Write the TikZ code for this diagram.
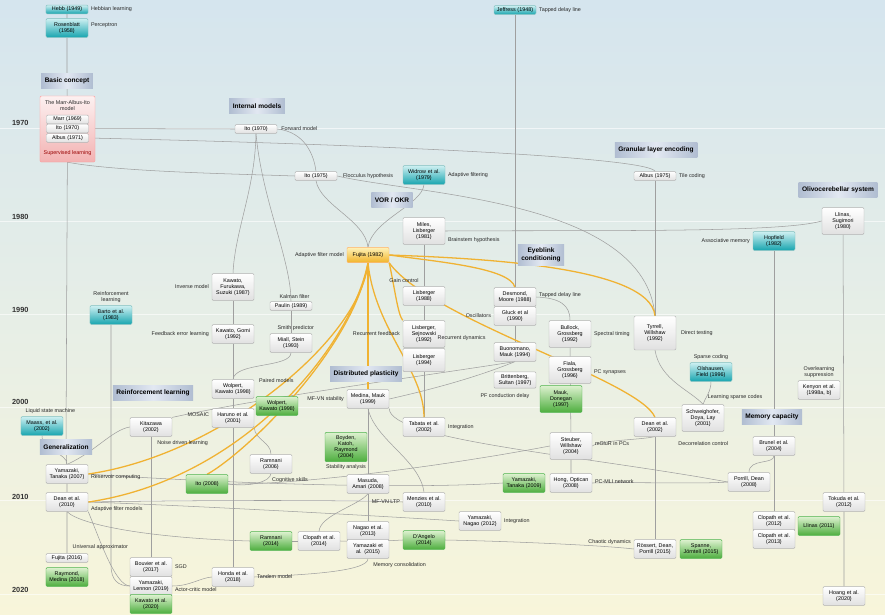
\documentclass[tikz,border=0pt]{standalone}
\usepackage{fontspec}
\setmainfont{Liberation Sans}
\usetikzlibrary{positioning,backgrounds}

\definecolor{skytop}{HTML}{D5E5EE}
\definecolor{skymid}{HTML}{E6EEE7}
\definecolor{skybot}{HTML}{F8F5DA}
\definecolor{tealtop}{HTML}{CDEFF1}
\definecolor{tealbot}{HTML}{17A5AF}
\definecolor{leaftop}{HTML}{DDF1CF}
\definecolor{leafbot}{HTML}{4DAE3E}
\definecolor{ambertop}{HTML}{FFF1B8}
\definecolor{amberbot}{HTML}{F0B428}
\definecolor{amberline}{HTML}{F0B232}
\definecolor{pinktop}{HTML}{FCF1F1}
\definecolor{pinkbot}{HTML}{F3B2B2}
\definecolor{slate}{HTML}{B0BDD1}
\definecolor{slatemid}{HTML}{E2E8F2}

\newcommand\tinyfont{\fontsize{4.6}{5.2}\selectfont}
\newcommand\topicfont{\fontsize{5.6}{6.4}\selectfont\bfseries}

\tikzset{
  refbox/.style={draw=gray!60, rounded corners=1pt, top color=white,
    bottom color=gray!24, font=\tinyfont, align=center, text width=1.2cm,
    inner xsep=0.03cm, inner ysep=1pt, minimum height=16pt},
  slim/.style={minimum height=7.5pt, inner ysep=0.4pt},
  tall/.style={minimum height=23pt},
  tealbox/.style={refbox, draw=teal!50, top color=tealtop, bottom color=tealbot},
  leafbox/.style={refbox, draw=green!40!gray, top color=leaftop, bottom color=leafbot},
  amberbox/.style={refbox, draw=orange!60, top color=ambertop, bottom color=amberbot},
  topic/.style={font=\topicfont, left color=slate, right color=slate,
    middle color=slatemid, inner xsep=3pt, minimum height=13pt, align=center},
  note/.style={font=\tinyfont, inner sep=0.5pt, text=black!85, align=center},
  yearlbl/.style={font=\fontsize{6.3}{7}\selectfont\bfseries, text=black!80, anchor=west},
  link/.style={draw=gray!75, line width=0.45pt},
  hot/.style={draw=amberline, line width=1.1pt},
}

\begin{document}
\begin{tikzpicture}[x=0.03cm, y=-0.03cm]
\useasboundingbox (0,0) rectangle (885,615);
%The paper: sky fading to sand, with a faint rule for each decade
\begin{scope}[on background layer]
\shade[top color=skytop, bottom color=skybot, middle color=skymid] (0,0) rectangle (885,615);
\foreach \y in {128,221,314,407,500,594}
  \draw[white, line width=0.7pt, opacity=0.6] (0,\y) -- (885,\y);
\end{scope}

\node[yearlbl] (y1970) at (8,123) {1970};
\node[yearlbl] (y1980) at (8,217) {1980};
\node[yearlbl] (y1990) at (8,310) {1990};
\node[yearlbl] (y2000) at (8,402) {2000};
\node[yearlbl] (y2010) at (8,497) {2010};
\node[yearlbl] (y2020) at (8,590) {2020};

%Topic headers
\node[topic] (bc) at (67,81) {Basic concept};
\node[topic] (im) at (257,106) {Internal models};
\node[topic] (vor) at (392,200) {VOR / OKR};
\node[topic] (gle) at (656,150) {Granular layer encoding};
\node[topic] (ocs) at (838,190) {Olivocerebellar system};
\node[topic] (eye) at (541,255) {Eyeblink\\conditioning};
\node[topic] (rl) at (153,393) {Reinforcement learning};
\node[topic] (dp) at (366,374) {Distributed plasticity};
\node[topic] (gen) at (66,447) {Generalization};
\node[topic] (mc) at (772,417) {Memory capacity};

%The Marr-Albus-Ito block, with its three papers inside
\node[draw=red!40, rounded corners=1pt, top color=pinktop, bottom color=pinkbot,
  minimum width=1.65cm, minimum height=1.98cm] (mai) at (67.5,129) {};
\node[note] (maititle) at (67.5,106) {The Marr-Albus-Ito\\model};
\node[refbox, slim] (marr) at (67.5,119.5) {Marr (1969)};
\node[refbox, slim] (ito70i) at (67.5,128.5) {Ito (1970)};
\node[refbox, slim] (albus71) at (67.5,138) {Albus (1971)};
\node[note, text=red!60!black] (suplearn) at (67.5,153) {Supervised learning};

%Teal boxes: ideas borrowed from outside
\node[tealbox, slim] (hebb) at (67,9.5) {Hebb (1949)};
\node[note, right=0.06cm of hebb] (hebbnote) {Hebbian learning};
\node[tealbox] (rosen) at (67,28) {Rosenblatt\\(1958)};
\node[note, right=0.06cm of rosen, yshift=2pt] (rosennote) {Perceptron};
\node[tealbox, slim] (jeffress) at (515,10) {Jeffress (1948)};
\node[note, right=0.06cm of jeffress] (jeffnote) {Tapped delay line};
\node[tealbox] (widrow) at (424,175) {Widrow et al.\\(1979)};
\node[note, right=0.06cm of widrow] (widrownote) {Adaptive filtering};
\node[tealbox] (barto) at (111,315) {Barto et al.\\(1983)};
\node[note, above=0.05cm of barto] (bartonote) {Reinforcement\\learning};
\node[tealbox] (hopfield) at (774,241) {Hopfield\\(1982)};
\node[note, left=0.06cm of hopfield] (hopnote) {Associative memory};
\node[tealbox] (olshausen) at (711,372) {Olshausen,\\Field (1996)};
\node[note, above=0.05cm of olshausen] (olsnote) {Sparse coding};
\node[tealbox] (maass) at (42,426) {Maass, et al.\\(2002)};
\node[note, above=0.05cm of maass, xshift=0.25cm] (maassnote) {Liquid state machine};

%Grey boxes: cerebellar models
\node[refbox, slim] (ito70) at (256,129) {Ito (1970)};
\node[note, right=0.1cm of ito70] (ito70note) {Forward model};
\node[refbox, slim] (ito75) at (316,176) {Ito (1975)};
\node[note, right=0.15cm of ito75] (ito75note) {Flocculus hypothesis};
\node[refbox, slim] (albus75) at (655,176) {Albus (1975)};
\node[note, right=0.06cm of albus75] (albusnote) {Tile coding};
\node[refbox, tall] (llinas80) at (843,221) {Llinas,\\Sugimori\\(1980)};
\node[refbox, tall] (miles) at (424,231) {Miles,\\Lisberger\\(1981)};
\node[note, right=0.06cm of miles, yshift=-7.5pt] (milesnote) {Brainstem hypothesis};
\node[amberbox, minimum height=13pt] (fujita) at (368,255) {Fujita (1982)};
\node[note, left=0.06cm of fujita] (fujnote) {Adaptive filter model};
\node[refbox, tall] (kfs) at (233,287) {Kawato,\\Furukawa,\\Suzuki (1987)};
\node[note, left=0.06cm of kfs] (kfsnote) {Inverse model};
\node[refbox, slim] (paulin) at (291,306) {Paulin (1989)};
\node[note, above=0.06cm of paulin, xshift=3pt] (paulinnote) {Kalman filter};
\node[refbox] (lis88) at (424,296) {Lisberger\\(1988)};
\node[note, above=0.1cm of lis88, xshift=-0.6cm] (lis88note) {Gain control};
\node[refbox] (desmond) at (515,297) {Desmond,\\Moore (1988)};
\node[note, right=0.06cm of desmond, yshift=2pt] (desnote) {Tapped delay line};
\node[refbox] (gluck) at (515,316) {Gluck et al\\(1990)};
\node[note, left=0.06cm of gluck] (glucknote) {Oscillators};
\node[refbox] (kgomi) at (233,334) {Kawato, Gomi\\(1992)};
\node[note, left=0.06cm of kgomi] (kgominote) {Feedback error learning};
\node[refbox] (miall) at (291,343) {Miall, Stein\\(1993)};
\node[note, above=0.06cm of miall, xshift=4pt] (miallnote) {Smith predictor};
\node[refbox, tall] (lissej) at (424,334) {Lisberger,\\Sejnowski\\(1992)};
\node[note, left=0.06cm of lissej] (lissejnote) {Recurrent feedback};
\node[refbox, minimum height=20pt] (lis94) at (424,360) {Lisberger\\(1994)};
\node[refbox, tall] (bullock) at (570,334) {Bullock,\\Grossberg\\(1992)};
\node[note, right=0.06cm of bullock] (bullnote) {Spectral timing};
\node[refbox, minimum height=29pt] (tyrrell) at (655,333) {Tyrrell,\\Willshaw\\(1992)};
\node[note, right=0.12cm of tyrrell] (tyrnote) {Direct testing};
\node[refbox] (buono) at (515,352) {Buonomano,\\Mauk (1994)};
\node[note, above=0.03cm of buono, xshift=-1.6cm] (buononote) {Recurrent dynamics};
\node[refbox, tall] (fiala) at (570,370) {Fiala,\\Grossberg\\(1996)};
\node[note, right=0.06cm of fiala, yshift=-2pt] (fialanote) {PC synapses};
\node[refbox, minimum height=14pt] (britt) at (515,380) {Brittenberg,\\Sultan (1997)};
\node[note, below=0.12cm of britt, xshift=-0.3cm] (brittnote) {PF conduction delay};
\node[refbox] (kenyon) at (819,390) {Kenyon et al.\\(1998a, b)};
\node[note, above=0.05cm of kenyon] (kenyonnote) {Overlearning\\suppression};
\node[refbox] (wolpg) at (233,389) {Wolpert,\\Kawato (1998)};
\node[note, right=0.12cm of wolpg, yshift=7.5pt] (wolpnote) {Paired models};
\node[refbox] (medina) at (368,399) {Medina, Mauk\\(1999)};
\node[note, left=0.06cm of medina] (medinanote) {MF-VN stability};
\node[refbox, tall] (schweig) at (703,418) {Schweighofer,\\Doya, Lay\\(2001)};
\node[note, anchor=west] (schweignote) at (707,397) {Learning sparse codes};
\node[refbox] (haruno) at (233,418) {Haruno et al.\\(2001)};
\node[note, left=0.06cm of haruno, yshift=3pt] (harunonote) {MOSAIC};
\node[refbox] (kitazawa) at (151,427) {Kitazawa\\(2002)};
\node[note, below=0.1cm of kitazawa, xshift=0.95cm] (kitanote) {Noise driven learning};
\node[refbox] (tabata) at (424,427) {Tabata et al.\\(2002)};
\node[note, right=0.06cm of tabata] (tabatanote) {Integration};
\node[refbox] (dean02) at (655,427) {Dean et al.\\(2002)};
\node[note, below=0.12cm of dean02, xshift=1.45cm] (dean02note) {Decorrelation control};
\node[refbox, tall] (steuber) at (571,446) {Steuber,\\Willshaw\\(2004)};
\node[note, right=0.06cm of steuber, yshift=2pt] (steubernote) {mGluR in PCs};
\node[refbox] (brunel) at (774,446) {Brunel et al.\\(2004)};
\node[refbox] (ramnani06) at (271,464) {Ramnani\\(2006)};
\node[note, below=0.1cm of ramnani06, xshift=0.57cm] (ramnote) {Cognitive skills};
\node[refbox] (yt07) at (67,474) {Yamazaki,\\Tanaka (2007)};
\node[note, right=0.06cm of yt07, yshift=-3pt] (yt07note) {Reservoir computing};
\node[refbox] (masuda) at (368,484) {Masuda,\\Amari (2008)};
\node[refbox] (hong) at (571,483) {Hong, Optican\\(2008)};
\node[note, right=0.06cm of hong, yshift=1pt] (hongnote) {PC-MLI network};
\node[refbox] (porrill) at (749,482) {Porrill, Dean\\(2008)};
\node[refbox] (dean10) at (67,502) {Dean et al.\\(2010)};
\node[note, right=0.06cm of dean10, yshift=-6pt] (dean10note) {Adaptive filter models};
\node[refbox] (menzies) at (424,502) {Menzies et al.\\(2010)};
\node[note, left=0.06cm of menzies] (menznote) {MF-VN LTP};
\node[refbox] (tokuda) at (844,502) {Tokuda et al.\\(2012)};
\node[refbox] (yn12) at (480,521) {Yamazaki,\\Nagao (2012)};
\node[note, right=0.06cm of yn12] (yn12note) {Integration};
\node[refbox] (nagao) at (368,531) {Nagao et al.\\(2013)};
\node[refbox] (clop14) at (319,541) {Clopath et al.\\(2014)};
\node[refbox] (yam15) at (368,549) {Yamazaki et\\al. (2015)};
\node[note, below=0.1cm of yam15, xshift=0.95cm] (yam15note) {Memory consolidation};
\node[refbox] (clop12) at (774,521) {Clopath et al.\\(2012)};
\node[refbox] (clop13) at (774,539) {Clopath et al.\\(2013)};
\node[refbox] (rossert) at (655,549) {Rössert, Dean,\\Porrill (2015)};
\node[note, left=0.06cm of rossert, yshift=6pt] (rossnote) {Chaotic dynamics};
\node[refbox, slim] (fujita16) at (67,558) {Fujita (2016)};
\node[note, above=0.08cm of fujita16, xshift=1cm] (fuj16note) {Universal approximator};
\node[refbox] (bouvier) at (151,567) {Bouvier et al.\\(2017)};
\node[note, right=0.06cm of bouvier] (bouvnote) {SGD};
\node[refbox] (yl19) at (151,586) {Yamazaki,\\Lennon (2019)};
\node[note, right=0.06cm of yl19, yshift=-3pt] (yl19note) {Actor-critic model};
\node[refbox] (honda) at (233,577) {Honda et al.\\(2018)};
\node[note, right=0.06cm of honda] (hondanote) {Tandem model};
\node[refbox] (hoang) at (844,596) {Hoang et al.\\(2020)};

%Green boxes: experimental work
\node[leafbox] (wolpk) at (277,406) {Wolpert,\\Kawato (1998)};
\node[leafbox, tall] (mauk) at (561,399) {Mauk,\\Donegan\\(1997)};
\node[leafbox, minimum height=25pt] (boyden) at (346,447) {Boyden,\\Katoh,\\Raymond\\(2004)};
\node[note, below=0.05cm of boyden] (boydnote) {Stability analysis};
\node[leafbox] (ito08) at (207,484) {Ito (2008)};
\node[leafbox] (yt09) at (524,483) {Yamazaki,\\Tanaka (2009)};
\node[leafbox] (ramnani14) at (271,541) {Ramnani\\(2014)};
\node[leafbox] (dangelo) at (424,540) {D'Angelo\\(2014)};
\node[leafbox] (spanne) at (701,549) {Spanne,\\Jörntell (2015)};
\node[leafbox] (llinas11) at (819,526) {Llinas (2011)};
\node[leafbox] (raymond) at (67,577) {Raymond,\\Medina (2018)};
\node[leafbox] (kawato20) at (151,604) {Kawato et al.\\(2020)};

%Connectors go underneath the boxes
\begin{scope}[on background layer]
% grey lineage lines
\draw[link] (hebb) -- (rosen) -- (bc) -- (mai);
\draw[link] (mai) -- (gen) -- (yt07) -- (dean10) -- (fujita16);
\draw[link] (maass.south) .. controls (42,452) and (67,452) .. (yt07.north);
\draw[link] (ito70i.east) -- (ito70.west);
\draw[link] (albus71.east) .. controls (400,145) and (650,158) .. (albus75.north);
\draw[link] (ito70.east) .. controls (305,132) and (314,155) .. (ito75.north);
\draw[link] (ito75.south) .. controls (320,205) and (365,220) .. (fujita.north);
\draw[link] (mai.south) .. controls (120,172) and (240,174) .. (ito75.west);
\draw[link] (ito75.east) .. controls (420,195) and (645,200) .. (tyrrell.north);
\draw[link] (widrow.south) .. controls (422,205) and (372,220) .. (fujita.north);
\draw[link] (jeffress) -- (desmond);
\draw[link] (albus75) -- (tyrrell);
\draw[link] (miles.east) .. controls (600,230) and (780,233) .. (llinas80.west);
\draw[link] (miles) -- (lis88) -- (lissej);
\draw[link] (lis94) -- (tabata);
\draw[link] (ito70.south) .. controls (255,190) and (235,230) .. (kfs.north);
\draw[link] (ito70.south) .. controls (262,200) and (291,260) .. (paulin.north);
\draw[link] (paulin) -- (miall);
\draw[link] (miall.south) .. controls (291,368) and (235,362) .. (wolpg.north);
\draw[link] (kfs) -- (kgomi) -- (wolpg) -- (haruno) -- (honda);
\draw[link] (barto.south) -- (111,565) .. controls (111,580) and (118,586) .. (yl19.west);
\draw[link] (kitazawa) -- (bouvier);
\draw[link] (yt07.north) .. controls (95,452) and (112,430) .. (kitazawa.west);
\draw[link] (kitazawa.north east) .. controls (260,398) and (430,375) .. (buono.south);
\draw[link] (buono.south) .. controls (470,380) and (420,392) .. (medina.east);
\draw[link] (desmond.east) .. controls (560,298) and (570,305) .. (bullock.north);
\draw[link] (gluck) -- (buono);
\draw[link] (bullock) -- (steuber) -- (hong);
\draw[link] (steuber.east) .. controls (600,440) and (640,440) .. (dean02.south);
\draw[link] (dean02) -- (rossert);
\draw[link] (tyrrell.south) .. controls (660,380) and (690,390) .. (schweig.north);
\draw[link] (olshausen.south) .. controls (711,392) and (705,398) .. (schweig.north);
\draw[link] (hopfield) -- (brunel) -- (clop12);
\draw[link] (brunel.south) .. controls (774,465) and (749,458) .. (porrill.north);
\draw[link] (llinas80) -- (tokuda) -- (hoang);
\draw[link] (hong.east) .. controls (650,482) and (700,484) .. (porrill.west);
\draw[link] (medina.south east) .. controls (390,440) and (580,455) .. (porrill.west);
\draw[link] (medina) -- (masuda) -- (nagao);
\draw[link] (medina.south) .. controls (375,440) and (420,460) .. (menzies.north);
\draw[link] (masuda.south) .. controls (360,505) and (320,515) .. (clop14.north);
\draw[link] (haruno.south east) .. controls (255,440) and (271,442) .. (ramnani06.north);
\draw[link] (ramnani06.south) .. controls (270,482) and (250,487) .. (ito08.east);
\draw[link] (ito08.east) .. controls (300,485) and (450,465) .. (steuber.west);
\draw[link] (yt07.east) .. controls (200,482) and (400,490) .. (yt09.west);
\draw[link] (dean10.east) .. controls (200,500) and (350,500) .. (menzies.west);
\draw[link] (dean10.east) .. controls (200,506) and (380,516) .. (yn12.west);
\draw[link] (dean10.south) .. controls (80,525) and (150,538) .. (ramnani14.west);
\draw[link] (ramnani14) -- (clop14);
\draw[link] (clop14.east) .. controls (380,542) and (400,540) .. (dangelo.west);
\draw[link] (dangelo.east) .. controls (500,541) and (600,545) .. (rossert.west);
\draw[link] (dean10.south east) .. controls (100,540) and (115,585) .. (yl19.west);
\draw[link] (yl19.east) .. controls (190,586) and (200,578) .. (honda.west);
\draw[link] (honda.east) .. controls (300,575) and (368,572) .. (yam15.south);
% orange lines out of the adaptive filter model
\draw[hot] (fujita.south) .. controls (360,340) and (220,455) .. (yt07.east);
\draw[hot] (fujita.south) .. controls (355,345) and (250,450) .. (ito08.north);
\draw[hot] (fujita.south) .. controls (350,350) and (240,480) .. (dean10.east);
\draw[hot] (fujita) -- (medina);
\draw[hot] (fujita.south) .. controls (375,330) and (424,370) .. (tabata.north);
\draw[hot] (fujita.south east) .. controls (395,290) and (398,315) .. (lissej.north west);
\draw[hot] (fujita.east) .. controls (440,262) and (510,268) .. (desmond.north);
\draw[hot] (fujita.east) .. controls (470,258) and (650,265) .. (tyrrell.north);
\draw[hot] (fujita.south east) .. controls (430,320) and (640,380) .. (dean02.north);
\end{scope}
\end{tikzpicture}
\end{document}
